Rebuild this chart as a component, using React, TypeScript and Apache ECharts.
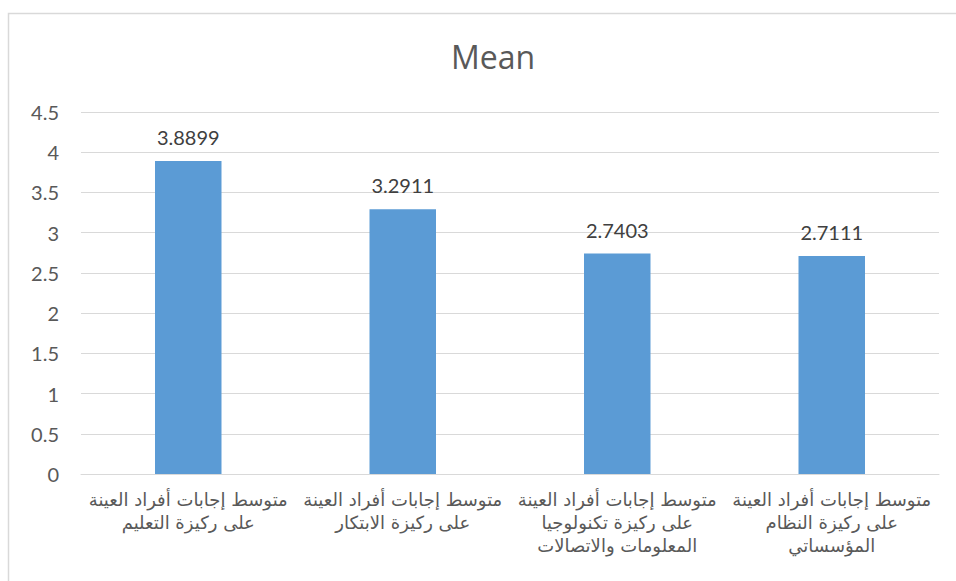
import React, { useEffect, useRef } from "react";
import * as echarts from "echarts";

const categories = [
  "متوسط إجابات أفراد العينة\nعلى ركيزة التعليم",
  "متوسط إجابات أفراد العينة\nعلى ركيزة الابتكار",
  "متوسط إجابات أفراد العينة\nعلى ركيزة تكنولوجيا\nالمعلومات والاتصالات",
  "متوسط إجابات أفراد العينة\nعلى ركيزة النظام\nالمؤسساتي",
];
const meanValues = [3.8899, 3.2911, 2.7403, 2.7111];
const titleText = "Mean";

export default function App() {
  const ref = useRef<HTMLDivElement>(null);
  useEffect(() => {
    if (!ref.current) return;
    const chart = echarts.init(ref.current, null, { renderer: "svg" });
    chart.setOption({
      animation: false,
      backgroundColor: "#ffffff",
      title: {
        text: titleText,
        left: 446,
        top: 35,
        textStyle: {
          fontFamily: "'Open Sans', Lato, sans-serif",
          fontSize: 32,
          fontWeight: "normal",
          color: "#595959",
        },
      },
      graphic: [
        {
          type: "rect",
          shape: { x: 8.5, y: 13.5, width: 1000, height: 700 },
          style: { fill: "none", stroke: "#d9d9d9", lineWidth: 1.5 },
          silent: true,
          z: -1,
        },
      ],
      grid: { left: 81, right: 17, top: 112, bottom: 107 },
      xAxis: {
        type: "category",
        data: categories,
        axisTick: { show: false },
        axisLine: { show: true, lineStyle: { color: "#d9d9d9", width: 1 } },
        axisLabel: {
          interval: 0,
          margin: 14,
          color: "#595959",
          fontSize: 18,
          lineHeight: 23,
          fontFamily: "'DejaVu Sans', 'Noto Sans', sans-serif",
        },
      },
      yAxis: {
        type: "value",
        min: 0,
        max: 4.5,
        interval: 0.5,
        axisLine: { show: false },
        axisTick: { show: false },
        splitLine: { lineStyle: { color: "#d9d9d9", width: 1 } },
        axisLabel: {
          color: "#595959",
          fontSize: 20,
          margin: 22,
          fontFamily: "Lato, 'Open Sans', sans-serif",
        },
      },
      series: [
        {
          type: "bar",
          data: meanValues,
          barWidth: "31%",
          itemStyle: { color: "#5b9bd5" },
          label: {
            show: true,
            position: "top",
            distance: 14,
            color: "#404040",
            fontSize: 20,
            fontFamily: "Lato, 'Open Sans', sans-serif",
            formatter: (p: any) => p.value.toFixed(4),
          },
        },
      ],
    });
    return () => chart.dispose();
  }, []);
  return (
    <div
      ref={ref}
      style={{ position: "fixed", left: 0, top: 0, width: 956, height: 581 }}
    />
  );
}
